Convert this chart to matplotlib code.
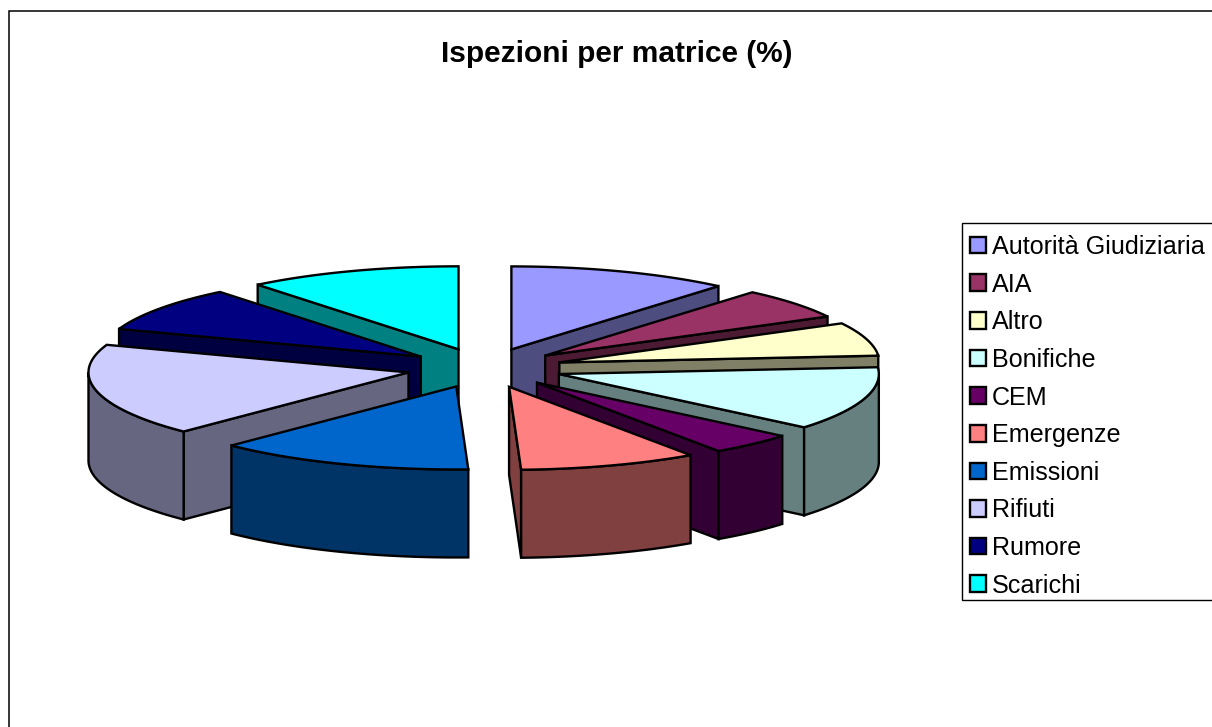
import numpy as np
import matplotlib
matplotlib.use("Agg")
import matplotlib.pyplot as plt
from matplotlib.patches import Polygon, Rectangle, Patch
from matplotlib.colors import to_rgb

plt.rcParams['font.family'] = ['Liberation Sans', 'DejaVu Sans']

title = "Ispezioni per matrice (%)"
categories = ["Autorità Giudiziaria", "AIA", "Altro", "Bonifiche", "CEM",
              "Emergenze", "Emissioni", "Rifiuti", "Rumore", "Scarichi"]
values = [11.2, 6.0, 6.5, 12.4, 4.3, 9.0, 13.0, 18.0, 8.8, 10.8]
colors = ["#9999FF", "#993366", "#FFFFCC", "#CCFFFF", "#660066",
          "#FF8080", "#0066CC", "#CCCCFF", "#000080", "#00FFFF"]

# pie projection, in pixels
CX, CY = 484.5, 368.0
RX, RY = 320.0, 83.0
EX, EY = 78.0, 19.8
DEPTH = 88.0
LW = 1.7

fig = plt.figure(figsize=(12.12, 7.27), dpi=100, facecolor="white")
ax = fig.add_axes([0, 0, 1, 1])
ax.set_xlim(0, 1212)
ax.set_ylim(727, 0)
ax.axis("off")

# chart frame (runs off the right and bottom of the picture)
ax.add_patch(Rectangle((9.0, 10.5), 1300, 800, fc="white", ec="black", lw=1.1, zorder=0))


def rim(ax0, ay0, deg):
    t = np.radians(deg)
    return np.column_stack([ax0 + RX * np.sin(t), ay0 - RY * np.cos(t)])


def poly(pts, fc, z):
    ax.add_patch(Polygon(pts, closed=True, fc=fc, ec="black", lw=LW,
                         joinstyle="miter", zorder=z))


edges = np.concatenate([[0], np.cumsum(values)]) / np.sum(values) * 360
mids = (edges[:-1] + edges[1:]) / 2
order = np.argsort(-np.cos(np.radians(mids)))

for z, i in enumerate(order):
    a0, a1, mid = edges[i], edges[i + 1], mids[i]
    t = np.radians(mid)
    px, py = CX + EX * np.sin(t), CY - EY * np.cos(t)
    apex = np.array([[px, py]])
    down = np.array([0, DEPTH])
    top_col = np.array(to_rgb(colors[i]))
    wall_col = tuple(top_col * 0.5)
    base = 10 + z * 5
    # radial walls
    for ang, vis in ((a0, np.sin(np.radians(a0)) < -1e-6),
                     (a1, np.sin(np.radians(a1)) > 1e-6)):
        if vis:
            r = rim(px, py, np.array([ang]))
            poly(np.vstack([apex, r, r + down, apex + down]), wall_col, base)
    # outer wall: the part of the rim facing the viewer
    lo, hi = max(a0, 90), min(a1, 270)
    if hi > lo:
        arc = rim(px, py, np.linspace(lo, hi, 80))
        poly(np.vstack([arc, (arc + down)[::-1]]), wall_col, base + 1)
    # top face
    arc = rim(px, py, np.linspace(a0, a1, 120))
    poly(np.vstack([apex, arc]), colors[i], base + 2)

# title
ax.text(617, 54, title, ha="center", va="center", fontsize=21.5,
        fontweight="bold", color="black", zorder=200)

# legend
ax.add_patch(Rectangle((961.5, 222.5), 400, 377.5, fc="white", ec="black", lw=1.0, zorder=150))
handles = [Patch(fc=c, ec="black", lw=1.7, label=n) for c, n in zip(colors, categories)]
leg = ax.legend(handles=handles, loc="upper left", bbox_to_anchor=(970 / 1212, 1 - 235 / 727),
                frameon=False, fontsize=18.1, borderaxespad=0, borderpad=0,
                handlelength=0.64, handleheight=0.64, handletextpad=0.24,
                labelspacing=0.542, labelcolor="black")
leg.set_zorder(201)

fig.savefig("out.png", dpi=100, facecolor="white")
